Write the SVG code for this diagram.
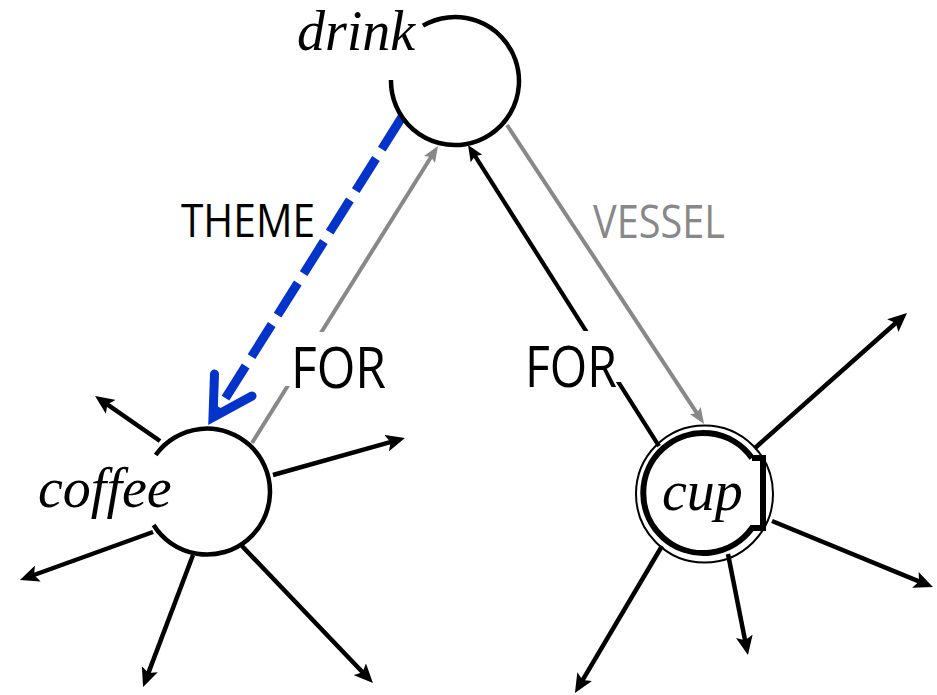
<svg xmlns="http://www.w3.org/2000/svg" width="937" height="695" viewBox="0 0 937 695">
  <style>
    .node { fill: none; stroke: #000; stroke-width: 4.5; }
    .word { font-family: "Liberation Serif", "Times New Roman", serif; font-style: italic; font-size: 56px; fill: #000; }
    .lbl { font-family: "Open Sans", "Noto Sans", "Liberation Sans", sans-serif; fill: #000; }
    .star { stroke: #000; stroke-width: 4.5; fill: none; marker-end: url(#arrB); }
    .gray { stroke: #888; stroke-width: 4; fill: none; marker-end: url(#arrG); }
    .blk { stroke: #000; stroke-width: 4.2; fill: none; marker-end: url(#arrK); }
    .theme { stroke: #0433cc; stroke-width: 9; fill: none; }
    .bg { fill: #fff; }
  </style>
  <defs>
    <marker id="arrB" markerUnits="userSpaceOnUse" markerWidth="19" markerHeight="17" refX="13" refY="8.5" orient="auto">
      <path d="M0,0 L19,8.5 L0,17 L4,8.5 z" fill="#000"/>
    </marker>
    <marker id="arrG" markerUnits="userSpaceOnUse" markerWidth="16" markerHeight="13" refX="11" refY="6.5" orient="auto">
      <path d="M0,0 L16,6.5 L0,13 L3,6.5 z" fill="#888"/>
    </marker>
    <marker id="arrK" markerUnits="userSpaceOnUse" markerWidth="16" markerHeight="14" refX="11" refY="7" orient="auto">
      <path d="M0,0 L16,7 L0,14 L3,7 z" fill="#000"/>
    </marker>
  </defs>

  <g id="connectors">
    <!-- FOR: coffee -> drink (gray) -->
    <line class="gray" x1="252" y1="443" x2="435.3" y2="150.2"/>
    <!-- FOR: cup -> drink (black) -->
    <line class="blk" x1="659" y1="446" x2="470.7" y2="149.2"/>
    <!-- VESSEL: drink -> cup (gray) -->
    <line class="gray" x1="507" y1="125" x2="701.3" y2="419.8"/>
    <!-- THEME: drink -> coffee (blue dashed) -->
    <line class="theme" x1="402" y1="117" x2="213.5" y2="417.3" stroke-dasharray="38 11"/>
    <path class="theme" d="M214.5,374 L213,417.3 L252,396" stroke-linecap="round" stroke-linejoin="miter"/>

    <!-- coffee star arrows -->
    <line class="star" x1="160" y1="441" x2="100" y2="399.4"/>
    <line class="star" x1="273" y1="475" x2="399.2" y2="439.6"/>
    <line class="star" x1="153" y1="532" x2="25.6" y2="578"/>
    <line class="star" x1="193" y1="555" x2="145.2" y2="681.4"/>
    <line class="star" x1="242" y1="546" x2="368.8" y2="678.7"/>

    <!-- cup star arrows -->
    <line class="star" x1="755" y1="448" x2="902.5" y2="317"/>
    <line class="star" x1="772" y1="521" x2="927.4" y2="584.8"/>
    <line class="star" x1="728" y1="554" x2="746.8" y2="649.1"/>
    <line class="star" x1="662" y1="546" x2="578" y2="687.8"/>

    <!-- labels -->
    <g id="label-theme">
      <text class="lbl" x="181" y="237" font-size="46" textLength="134" lengthAdjust="spacingAndGlyphs">THEME</text>
    </g>
    <g id="label-vessel">
      <text class="lbl" x="593" y="238" font-size="45" style="fill:#888" textLength="132" lengthAdjust="spacingAndGlyphs">VESSEL</text>
    </g>
    <g id="label-for-left">
      <rect class="bg" x="284" y="332" width="108" height="54"/>
      <text class="lbl" x="291" y="388" font-size="56" textLength="95" lengthAdjust="spacingAndGlyphs">FOR</text>
    </g>
    <g id="label-for-right">
      <rect class="bg" x="520" y="331" width="101" height="51"/>
      <text class="lbl" x="525" y="387" font-size="56" textLength="92" lengthAdjust="spacingAndGlyphs">FOR</text>
    </g>
  </g>

  <g id="node-drink">
    <path class="node" d="M391,80 A64,64 0 1 0 423,25.6"/>
    <text class="word" x="297" y="50">drink</text>
  </g>

  <g id="node-coffee">
    <path class="node" d="M155.7,455 A63,63 0 1 1 153.6,525"/>
    <text class="word" x="38" y="507">coffee</text>
  </g>

  <g id="node-cup">
    <circle cx="704.5" cy="494" r="68.5" fill="none" stroke="#000" stroke-width="2"/>
    <path d="M752,458 H763 V528 H752 A60,60 0 1 1 752,458" fill="none" stroke="#000" stroke-width="6" stroke-linejoin="miter"/>
    <text class="word" x="662" y="510">cup</text>
  </g>
</svg>
